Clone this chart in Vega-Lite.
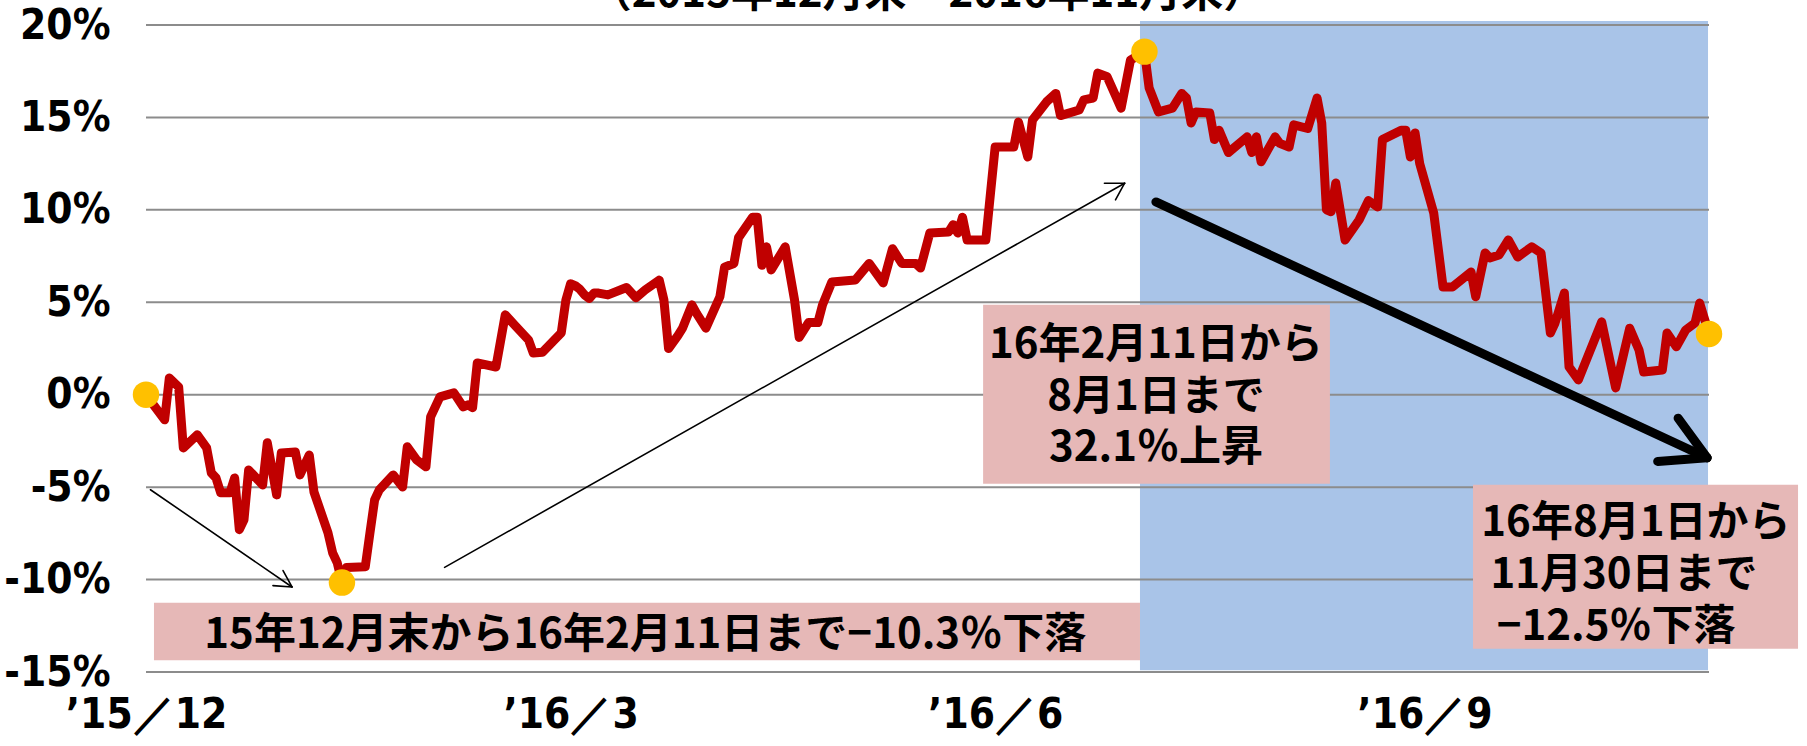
{
  "$schema": "https://vega.github.io/schema/vega-lite/v6.json",
  "width": 1563,
  "height": 647,
  "autosize": {"type": "none"},
  "padding": {"left": 146, "top": 25, "right": 98, "bottom": 74},
  "background": "white",
  "config": {"view": {"stroke": null}},
  "title": {"text": "（2015年12月末～2016年11月末）", "font": "Noto Sans CJK JP", "fontSize": 42, "fontWeight": "bold", "color": "black", "anchor": "middle", "offset": -12, "frame": "group"},
  "datasets": {
    "series": [
      {"date":"2015-12-31","value":0},
      {"date":"2016-01-04","value":-1.36},
      {"date":"2016-01-05","value":0.9},
      {"date":"2016-01-07","value":0.42},
      {"date":"2016-01-08","value":-2.88},
      {"date":"2016-01-11","value":-2.17},
      {"date":"2016-01-13","value":-2.88},
      {"date":"2016-01-14","value":-4.23},
      {"date":"2016-01-15","value":-4.5},
      {"date":"2016-01-16","value":-5.3},
      {"date":"2016-01-18","value":-5.3},
      {"date":"2016-01-19","value":-4.5},
      {"date":"2016-01-20","value":-7.3},
      {"date":"2016-01-21","value":-6.77},
      {"date":"2016-01-22","value":-4.07},
      {"date":"2016-01-25","value":-4.88},
      {"date":"2016-01-26","value":-2.6},
      {"date":"2016-01-28","value":-5.42},
      {"date":"2016-01-29","value":-3.15},
      {"date":"2016-02-01","value":-3.1},
      {"date":"2016-02-02","value":-4.34},
      {"date":"2016-02-04","value":-3.26},
      {"date":"2016-02-05","value":-5.26},
      {"date":"2016-02-08","value":-7.47},
      {"date":"2016-02-09","value":-8.55},
      {"date":"2016-02-10","value":-9.1},
      {"date":"2016-02-11","value":-10.16},
      {"date":"2016-02-12","value":-9.35},
      {"date":"2016-02-16","value":-9.3},
      {"date":"2016-02-17","value":-7.47},
      {"date":"2016-02-18","value":-5.69},
      {"date":"2016-02-19","value":-5.15},
      {"date":"2016-02-22","value":-4.34},
      {"date":"2016-02-24","value":-4.99},
      {"date":"2016-02-25","value":-2.82},
      {"date":"2016-02-27","value":-3.53},
      {"date":"2016-02-29","value":-3.9},
      {"date":"2016-03-01","value":-1.2},
      {"date":"2016-03-03","value":-0.12},
      {"date":"2016-03-06","value":0.1},
      {"date":"2016-03-08","value":-0.66},
      {"date":"2016-03-09","value":-0.55},
      {"date":"2016-03-10","value":-0.7},
      {"date":"2016-03-11","value":1.72},
      {"date":"2016-03-15","value":1.5},
      {"date":"2016-03-17","value":4.32},
      {"date":"2016-03-19","value":3.77},
      {"date":"2016-03-22","value":2.96},
      {"date":"2016-03-23","value":2.26},
      {"date":"2016-03-25","value":2.3},
      {"date":"2016-03-29","value":3.34},
      {"date":"2016-03-30","value":5.13},
      {"date":"2016-03-31","value":6.0},
      {"date":"2016-04-01","value":5.9},
      {"date":"2016-04-02","value":5.7},
      {"date":"2016-04-03","value":5.4},
      {"date":"2016-04-04","value":5.2},
      {"date":"2016-04-05","value":5.5},
      {"date":"2016-04-06","value":5.5},
      {"date":"2016-04-08","value":5.4},
      {"date":"2016-04-12","value":5.8},
      {"date":"2016-04-14","value":5.24},
      {"date":"2016-04-16","value":5.67},
      {"date":"2016-04-19","value":6.2},
      {"date":"2016-04-20","value":5.13},
      {"date":"2016-04-21","value":2.5},
      {"date":"2016-04-23","value":3.2},
      {"date":"2016-04-24","value":3.6},
      {"date":"2016-04-26","value":4.86},
      {"date":"2016-04-27","value":4.4},
      {"date":"2016-04-29","value":3.6},
      {"date":"2016-05-02","value":5.3},
      {"date":"2016-05-03","value":6.9},
      {"date":"2016-05-05","value":7.1},
      {"date":"2016-05-06","value":8.5},
      {"date":"2016-05-09","value":9.6},
      {"date":"2016-05-10","value":9.6},
      {"date":"2016-05-11","value":7.0},
      {"date":"2016-05-12","value":8.0},
      {"date":"2016-05-13","value":6.75},
      {"date":"2016-05-16","value":8.0},
      {"date":"2016-05-18","value":5.13},
      {"date":"2016-05-19","value":3.1},
      {"date":"2016-05-21","value":3.9},
      {"date":"2016-05-23","value":3.9},
      {"date":"2016-05-24","value":4.86},
      {"date":"2016-05-26","value":6.1},
      {"date":"2016-05-31","value":6.2},
      {"date":"2016-06-03","value":7.1},
      {"date":"2016-06-06","value":6.05},
      {"date":"2016-06-08","value":7.9},
      {"date":"2016-06-10","value":7.1},
      {"date":"2016-06-13","value":7.1},
      {"date":"2016-06-14","value":6.85},
      {"date":"2016-06-16","value":8.75},
      {"date":"2016-06-20","value":8.8},
      {"date":"2016-06-21","value":9.2},
      {"date":"2016-06-22","value":8.75},
      {"date":"2016-06-23","value":9.6},
      {"date":"2016-06-24","value":8.37},
      {"date":"2016-06-28","value":8.37},
      {"date":"2016-06-29","value":10.9},
      {"date":"2016-06-30","value":13.4},
      {"date":"2016-07-04","value":13.4},
      {"date":"2016-07-05","value":14.75},
      {"date":"2016-07-07","value":12.86},
      {"date":"2016-07-08","value":14.86},
      {"date":"2016-07-11","value":15.84},
      {"date":"2016-07-13","value":16.3},
      {"date":"2016-07-14","value":15.1},
      {"date":"2016-07-18","value":15.4},
      {"date":"2016-07-19","value":15.95},
      {"date":"2016-07-21","value":16.05},
      {"date":"2016-07-22","value":17.4},
      {"date":"2016-07-24","value":17.2},
      {"date":"2016-07-27","value":15.5},
      {"date":"2016-07-29","value":18.1},
      {"date":"2016-08-01","value":18.56},
      {"date":"2016-08-02","value":16.6},
      {"date":"2016-08-04","value":15.3},
      {"date":"2016-08-07","value":15.5},
      {"date":"2016-08-09","value":16.3},
      {"date":"2016-08-10","value":16.05},
      {"date":"2016-08-11","value":14.7},
      {"date":"2016-08-12","value":15.3},
      {"date":"2016-08-15","value":15.24},
      {"date":"2016-08-16","value":13.8},
      {"date":"2016-08-17","value":14.3},
      {"date":"2016-08-19","value":13.1},
      {"date":"2016-08-23","value":13.95},
      {"date":"2016-08-24","value":13.1},
      {"date":"2016-08-25","value":13.95},
      {"date":"2016-08-26","value":12.6},
      {"date":"2016-08-29","value":13.95},
      {"date":"2016-08-30","value":13.6},
      {"date":"2016-09-01","value":13.4},
      {"date":"2016-09-02","value":14.6},
      {"date":"2016-09-05","value":14.4},
      {"date":"2016-09-07","value":16.05},
      {"date":"2016-09-08","value":14.7},
      {"date":"2016-09-09","value":10.0},
      {"date":"2016-09-10","value":9.9},
      {"date":"2016-09-11","value":11.45},
      {"date":"2016-09-13","value":8.37},
      {"date":"2016-09-16","value":9.45},
      {"date":"2016-09-18","value":10.5},
      {"date":"2016-09-20","value":10.16},
      {"date":"2016-09-21","value":13.8},
      {"date":"2016-09-25","value":14.3},
      {"date":"2016-09-26","value":14.3},
      {"date":"2016-09-27","value":12.86},
      {"date":"2016-09-28","value":14.16},
      {"date":"2016-09-29","value":12.5},
      {"date":"2016-10-02","value":9.83},
      {"date":"2016-10-04","value":5.83},
      {"date":"2016-10-06","value":5.83},
      {"date":"2016-10-10","value":6.64},
      {"date":"2016-10-11","value":5.3},
      {"date":"2016-10-13","value":7.67},
      {"date":"2016-10-14","value":7.4},
      {"date":"2016-10-16","value":7.56},
      {"date":"2016-10-18","value":8.37},
      {"date":"2016-10-20","value":7.45},
      {"date":"2016-10-23","value":8.0},
      {"date":"2016-10-25","value":7.67},
      {"date":"2016-10-27","value":3.34},
      {"date":"2016-10-28","value":3.88},
      {"date":"2016-10-30","value":5.5},
      {"date":"2016-10-31","value":1.5},
      {"date":"2016-11-02","value":0.8},
      {"date":"2016-11-07","value":3.94},
      {"date":"2016-11-10","value":0.37},
      {"date":"2016-11-13","value":3.6},
      {"date":"2016-11-15","value":2.42},
      {"date":"2016-11-16","value":1.23},
      {"date":"2016-11-20","value":1.34},
      {"date":"2016-11-21","value":3.34},
      {"date":"2016-11-23","value":2.59},
      {"date":"2016-11-25","value":3.5},
      {"date":"2016-11-27","value":3.88},
      {"date":"2016-11-28","value":4.96},
      {"date":"2016-11-30","value":3.29}
    ],
    "keyPoints": [
      {"date":"2015-12-31","value":0},
      {"date":"2016-02-11","value":-10.16},
      {"date":"2016-08-01","value":18.56},
      {"date":"2016-11-30","value":3.29}
    ],
    "grid": [{"level":-15},{"level":-10},{"level":-5},{"level":0},{"level":5},{"level":10},{"level":15},{"level":20}],
    "period": [{"start":"2016-07-31T01:00Z","end":"2016-11-29T19:00Z","top":20.22,"bottom":-14.9}],
    "boxes": [
      {"start":"2016-01-01T17:00Z","end":"2016-07-31T01:00Z","top":-11.25,"bottom":-14.37},
      {"start":"2016-06-27T10:00Z","end":"2016-09-09T18:00Z","top":4.86,"bottom":-4.82},
      {"start":"2016-10-10T10:00Z","end":"2016-12-19T02:00Z","top":-4.87,"bottom":-13.74}
    ],
    "notes": [
      {"date":"2016-04-16T00:00Z","value":-13.0,"label":"15年12月末から16年2月11日まで−10.3％下落"},
      {"date":"2016-08-03T11:00Z","value":2.7,"label":"16年2月11日から"},
      {"date":"2016-08-03T11:00Z","value":-0.11,"label":"8月1日まで"},
      {"date":"2016-08-03T11:00Z","value":-2.87,"label":"32.1％上昇"},
      {"date":"2016-11-14T08:00Z","value":-6.93,"label":"16年8月1日から"},
      {"date":"2016-11-11T19:00Z","value":-9.74,"label":"11月30日まで"},
      {"date":"2016-11-10T02:00Z","value":-12.55,"label":"−12.5％下落"}
    ],
    "thinArrows": [
      {"from":"2015-12-31T23:00Z","fromValue":-5.14,"to":"2016-01-31T07:00Z","toValue":-10.4},
      {"from":"2016-01-29T09:00Z","fromValue":-9.51,"to":"2016-01-31T07:00Z","toValue":-10.4},
      {"from":"2016-01-27T05:00Z","fromValue":-10.33,"to":"2016-01-31T07:00Z","toValue":-10.4},
      {"from":"2016-03-04T00:00Z","fromValue":-9.34,"to":"2016-07-27T18:00Z","toValue":11.44},
      {"from":"2016-07-23T10:00Z","fromValue":11.44,"to":"2016-07-27T18:00Z","toValue":11.44},
      {"from":"2016-07-25T19:00Z","fromValue":10.54,"to":"2016-07-27T18:00Z","toValue":11.44}
    ],
    "thickArrow": [
      {"from":"2016-08-03T11:00Z","fromValue":10.43,"to":"2016-11-29T14:00Z","toValue":-3.41},
      {"from":"2016-11-23T09:00Z","fromValue":-1.27,"to":"2016-11-29T14:00Z","toValue":-3.41},
      {"from":"2016-11-19T00:00Z","fromValue":-3.61,"to":"2016-11-29T14:00Z","toValue":-3.41}
    ]
  },
  "layer": [
    {
      "data": {"name": "period"},
      "mark": {"type": "rect", "color": "#A9C4E8"},
      "encoding": {
        "x": {"field": "start", "type": "temporal", "title": null, "scale": {"type": "utc", "domain": [{"year":2015,"month":12,"date":31,"utc":true},{"year":2016,"month":11,"date":30,"utc":true}]}},
        "x2": {"field": "end"},
        "y": {"field": "top", "type": "quantitative", "title": null, "scale": {"domain": [-15, 20], "nice": false, "zero": false}},
        "y2": {"field": "bottom"}
      }
    },
    {
      "data": {"name": "grid"},
      "mark": {"type": "rule", "color": "#8C8C8C", "strokeWidth": 2},
      "encoding": {
        "y": {"field": "level", "type": "quantitative", "title": null, "scale": {"domain": [-15, 20], "nice": false, "zero": false}}
      }
    },
    {
      "data": {"name": "series"},
      "mark": {"type": "line", "color": "#C00000", "strokeWidth": 9, "strokeJoin": "round", "strokeCap": "round"},
      "encoding": {
        "x": {"field": "date", "type": "temporal", "title": null,
              "scale": {"type": "utc", "domain": [{"year":2015,"month":12,"date":31,"utc":true},{"year":2016,"month":11,"date":30,"utc":true}]},
              "axis": {"values": [{"year":2015,"month":12,"date":31,"utc":true},{"year":2016,"month":3,"date":31,"utc":true},{"year":2016,"month":6,"date":30,"utc":true},{"year":2016,"month":9,"date":30,"utc":true}],
                       "labelExpr": "'’' + utcFormat(datum.value, '%y') + '／' + utcFormat(datum.value, '%-m')",
                       "title": null, "grid": false, "ticks": false, "domain": false,
                       "labelFont": "DejaVu Sans Condensed, DejaVu Sans, sans-serif",
                       "labelFontSize": 42, "labelFontWeight": "bold", "labelColor": "black",
                       "labelPadding": 22, "labelAngle": 0, "labelFlush": false, "labelOverlap": false}},
        "y": {"field": "value", "type": "quantitative", "title": null,
              "scale": {"domain": [-15, 20], "nice": false, "zero": false},
              "axis": {"values": [-15,-10,-5,0,5,10,15,20],
                       "labelExpr": "datum.value + '%'",
                       "title": null, "grid": false, "ticks": false, "domain": false,
                       "labelFont": "DejaVu Sans Condensed, DejaVu Sans, sans-serif",
                       "labelFontSize": 42, "labelFontWeight": "bold", "labelColor": "black",
                       "labelPadding": 36, "labelOverlap": false}}
      }
    },
    {
      "data": {"name": "boxes"},
      "mark": {"type": "rect", "color": "#E6B8B7"},
      "encoding": {
        "x": {"field": "start", "type": "temporal", "title": null, "scale": {"type": "utc", "domain": [{"year":2015,"month":12,"date":31,"utc":true},{"year":2016,"month":11,"date":30,"utc":true}]}},
        "x2": {"field": "end"},
        "y": {"field": "top", "type": "quantitative", "title": null, "scale": {"domain": [-15, 20], "nice": false, "zero": false}},
        "y2": {"field": "bottom"}
      }
    },
    {
      "data": {"name": "notes"},
      "mark": {"type": "text", "font": "Noto Sans CJK JP", "fontSize": 42, "fontWeight": "bold", "color": "black", "align": "center", "baseline": "middle"},
      "encoding": {
        "x": {"field": "date", "type": "temporal", "title": null, "scale": {"type": "utc", "domain": [{"year":2015,"month":12,"date":31,"utc":true},{"year":2016,"month":11,"date":30,"utc":true}]}},
        "y": {"field": "value", "type": "quantitative", "title": null, "scale": {"domain": [-15, 20], "nice": false, "zero": false}},
        "text": {"field": "label"}
      }
    },
    {
      "data": {"name": "thinArrows"},
      "mark": {"type": "rule", "color": "black", "strokeWidth": 1.6, "strokeCap": "round"},
      "encoding": {
        "x": {"field": "from", "type": "temporal", "title": null, "scale": {"type": "utc", "domain": [{"year":2015,"month":12,"date":31,"utc":true},{"year":2016,"month":11,"date":30,"utc":true}]}},
        "x2": {"field": "to"},
        "y": {"field": "fromValue", "type": "quantitative", "title": null, "scale": {"domain": [-15, 20], "nice": false, "zero": false}},
        "y2": {"field": "toValue"}
      }
    },
    {
      "data": {"name": "thickArrow"},
      "mark": {"type": "rule", "color": "black", "strokeWidth": 9, "strokeCap": "round"},
      "encoding": {
        "x": {"field": "from", "type": "temporal", "title": null, "scale": {"type": "utc", "domain": [{"year":2015,"month":12,"date":31,"utc":true},{"year":2016,"month":11,"date":30,"utc":true}]}},
        "x2": {"field": "to"},
        "y": {"field": "fromValue", "type": "quantitative", "title": null, "scale": {"domain": [-15, 20], "nice": false, "zero": false}},
        "y2": {"field": "toValue"}
      }
    },
    {
      "data": {"name": "keyPoints"},
      "mark": {"type": "point", "shape": "circle", "filled": true, "size": 700, "color": "#FFC000", "opacity": 1},
      "encoding": {
        "x": {"field": "date", "type": "temporal", "title": null, "scale": {"type": "utc", "domain": [{"year":2015,"month":12,"date":31,"utc":true},{"year":2016,"month":11,"date":30,"utc":true}]}},
        "y": {"field": "value", "type": "quantitative", "title": null, "scale": {"domain": [-15, 20], "nice": false, "zero": false}}
      }
    }
  ]
}
